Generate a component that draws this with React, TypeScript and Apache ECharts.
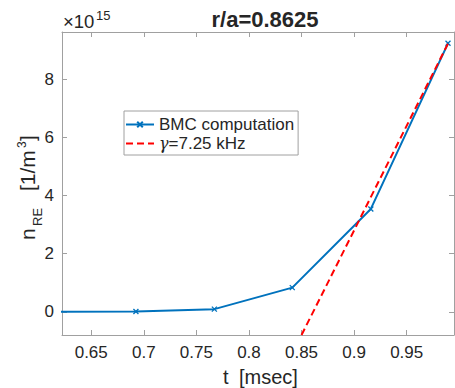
import React, { useEffect, useRef } from 'react';
import * as echarts from 'echarts';

// Data (n_RE in units of 1e15 m^-3)
const tBMC = [0.6185, 0.6925, 0.7671, 0.8412, 0.9159, 0.9893];
const nBMC = [0, 0.01, 0.09, 0.83, 3.54, 9.24];
const tFit = [0.85, 0.9898];
const nFit = [-0.8, 9.27];
const xTicks = [0.65, 0.7, 0.75, 0.8, 0.85, 0.9, 0.95];
const yTicks = [0, 2, 4, 6, 8];
const xRange = [0.6222, 0.995];
const yRange = [-0.8, 9.63];
const seriesNames = ['BMC computation', 'γ=7.25 kHz'];
const titleText = 'r/a=0.8625';

const FONT = '"Liberation Sans", Arial, Helvetica, sans-serif';
const AXIS_COLOR = '#a0a0a0';
const TEXT_COLOR = '#262626';
const BLUE = '#0072BD';
const RED = '#FF0000';
const XMARK = 'path://M0,0L10,10M10,0L0,10';

function makeXAxis(pos: 'bottom' | 'top', labels: boolean) {
  return {
    type: 'value',
    position: pos,
    min: xRange[0],
    max: xRange[1],
    axisLine: { show: true, onZero: false, lineStyle: { color: AXIS_COLOR, width: 1 } },
    axisTick: { show: true, inside: true, length: 5, customValues: xTicks, lineStyle: { color: AXIS_COLOR } },
    axisLabel: {
      show: labels,
      customValues: xTicks,
      color: TEXT_COLOR,
      fontSize: 17,
      fontFamily: FONT,
      margin: 9,
      formatter: (v: number) => String(v),
    },
    splitLine: { show: false },
  };
}

function makeYAxis(pos: 'left' | 'right', labels: boolean) {
  return {
    type: 'value',
    position: pos,
    min: yRange[0],
    max: yRange[1],
    axisLine: { show: true, onZero: false, lineStyle: { color: AXIS_COLOR, width: 1 } },
    axisTick: { show: true, inside: true, length: 5, customValues: yTicks, lineStyle: { color: AXIS_COLOR } },
    axisLabel: {
      show: labels,
      customValues: yTicks,
      color: TEXT_COLOR,
      fontSize: 17,
      fontFamily: FONT,
      margin: 8,
      formatter: (v: number) => String(v),
    },
    splitLine: { show: false },
  };
}

export default function App() {
  const ref = useRef<HTMLDivElement>(null);
  useEffect(() => {
    if (!ref.current) return;
    const chart = echarts.init(ref.current, null, { renderer: 'svg' });
    const labelFont = (s: number) => `${s}px ${FONT}`;
    chart.setOption({
      animation: false,
      backgroundColor: '#ffffff',
      grid: { left: 62, top: 32, right: 1, bottom: 53, containLabel: false },
      xAxis: [makeXAxis('bottom', true), makeXAxis('top', false)],
      yAxis: [makeYAxis('left', true), makeYAxis('right', false)],
      legend: {
        left: 124,
        top: 111,
        orient: 'vertical',
        backgroundColor: '#ffffff',
        borderColor: AXIS_COLOR,
        borderWidth: 1,
        borderRadius: 0,
        padding: [5, 4, 3, 1],
        itemGap: 2,
        itemWidth: 28,
        itemHeight: 7,
        data: seriesNames,
        textStyle: {
          color: TEXT_COLOR,
          fontSize: 17,
          fontFamily: FONT,
          lineHeight: 17,
          rich: {
            g: { fontFamily: '"DejaVu Serif", serif', fontStyle: 'italic', fontSize: 16, color: TEXT_COLOR },
          },
        },
        formatter: (name: string) => (name.startsWith('γ') ? '{g|γ}' + name.slice(1) : name),
      },
      series: [
        {
          name: seriesNames[0],
          type: 'line',
          xAxisIndex: 0,
          yAxisIndex: 0,
          data: tBMC.map((t, i) => [t, nBMC[i]]),
          clip: true,
          symbol: XMARK,
          symbolSize: 5,
          showAllSymbol: true,
          lineStyle: { color: BLUE, width: 2 },
          itemStyle: { color: BLUE, borderColor: BLUE, borderWidth: 1.3 },
          emphasis: { disabled: true },
          z: 3,
        },
        {
          name: seriesNames[1],
          type: 'line',
          xAxisIndex: 0,
          yAxisIndex: 0,
          data: tFit.map((t, i) => [t, nFit[i]]),
          clip: true,
          symbol: 'circle',
          symbolSize: 0,
          showSymbol: false,
          lineStyle: { color: RED, width: 2, type: [7, 4] },
          itemStyle: { color: RED, opacity: 0 },
          emphasis: { disabled: true },
          z: 4,
        },
      ],
      graphic: [
        {
          type: 'text',
          x: 265,
          y: 19,
          style: { text: titleText, font: `bold 22px ${FONT}`, fill: TEXT_COLOR, align: 'center', verticalAlign: 'middle' },
        },
        {
          type: 'text',
          x: 223,
          y: 377,
          style: { text: 't', font: labelFont(20), fill: TEXT_COLOR, align: 'left', verticalAlign: 'middle' },
        },
        {
          type: 'text',
          x: 239,
          y: 377,
          style: { text: '[msec]', font: labelFont(20), fill: TEXT_COLOR, align: 'left', verticalAlign: 'middle' },
        },
        {
          type: 'text',
          x: 63,
          y: 21,
          style: { text: '×10', font: labelFont(18.5), fill: TEXT_COLOR, align: 'left', verticalAlign: 'middle' },
        },
        {
          type: 'text',
          x: 96,
          y: 15,
          style: { text: '15', font: labelFont(13), fill: TEXT_COLOR, align: 'left', verticalAlign: 'middle' },
        },
        {
          type: 'group',
          x: 29,
          y: 240,
          rotation: Math.PI / 2,
          children: [
            { type: 'text', x: 0, y: -1.7, style: { text: 'n', font: labelFont(21), fill: TEXT_COLOR, align: 'left', verticalAlign: 'middle' } },
            { type: 'text', x: 14, y: 8.5, style: { text: 'RE', font: labelFont(13), fill: TEXT_COLOR, align: 'left', verticalAlign: 'middle' } },
            { type: 'text', x: 49, y: -1.7, style: { text: '[1/m', font: labelFont(21), fill: TEXT_COLOR, align: 'left', verticalAlign: 'middle' } },
            { type: 'text', x: 92, y: -7.5, style: { text: '3', font: labelFont(12), fill: TEXT_COLOR, align: 'left', verticalAlign: 'middle' } },
            { type: 'text', x: 99, y: -1.7, style: { text: ']', font: labelFont(21), fill: TEXT_COLOR, align: 'left', verticalAlign: 'middle' } },
          ],
        },
      ],
    });
    return () => chart.dispose();
  }, []);
  return <div ref={ref} style={{ position: 'absolute', left: 0, top: 0, width: 455, height: 388 }} />;
}
